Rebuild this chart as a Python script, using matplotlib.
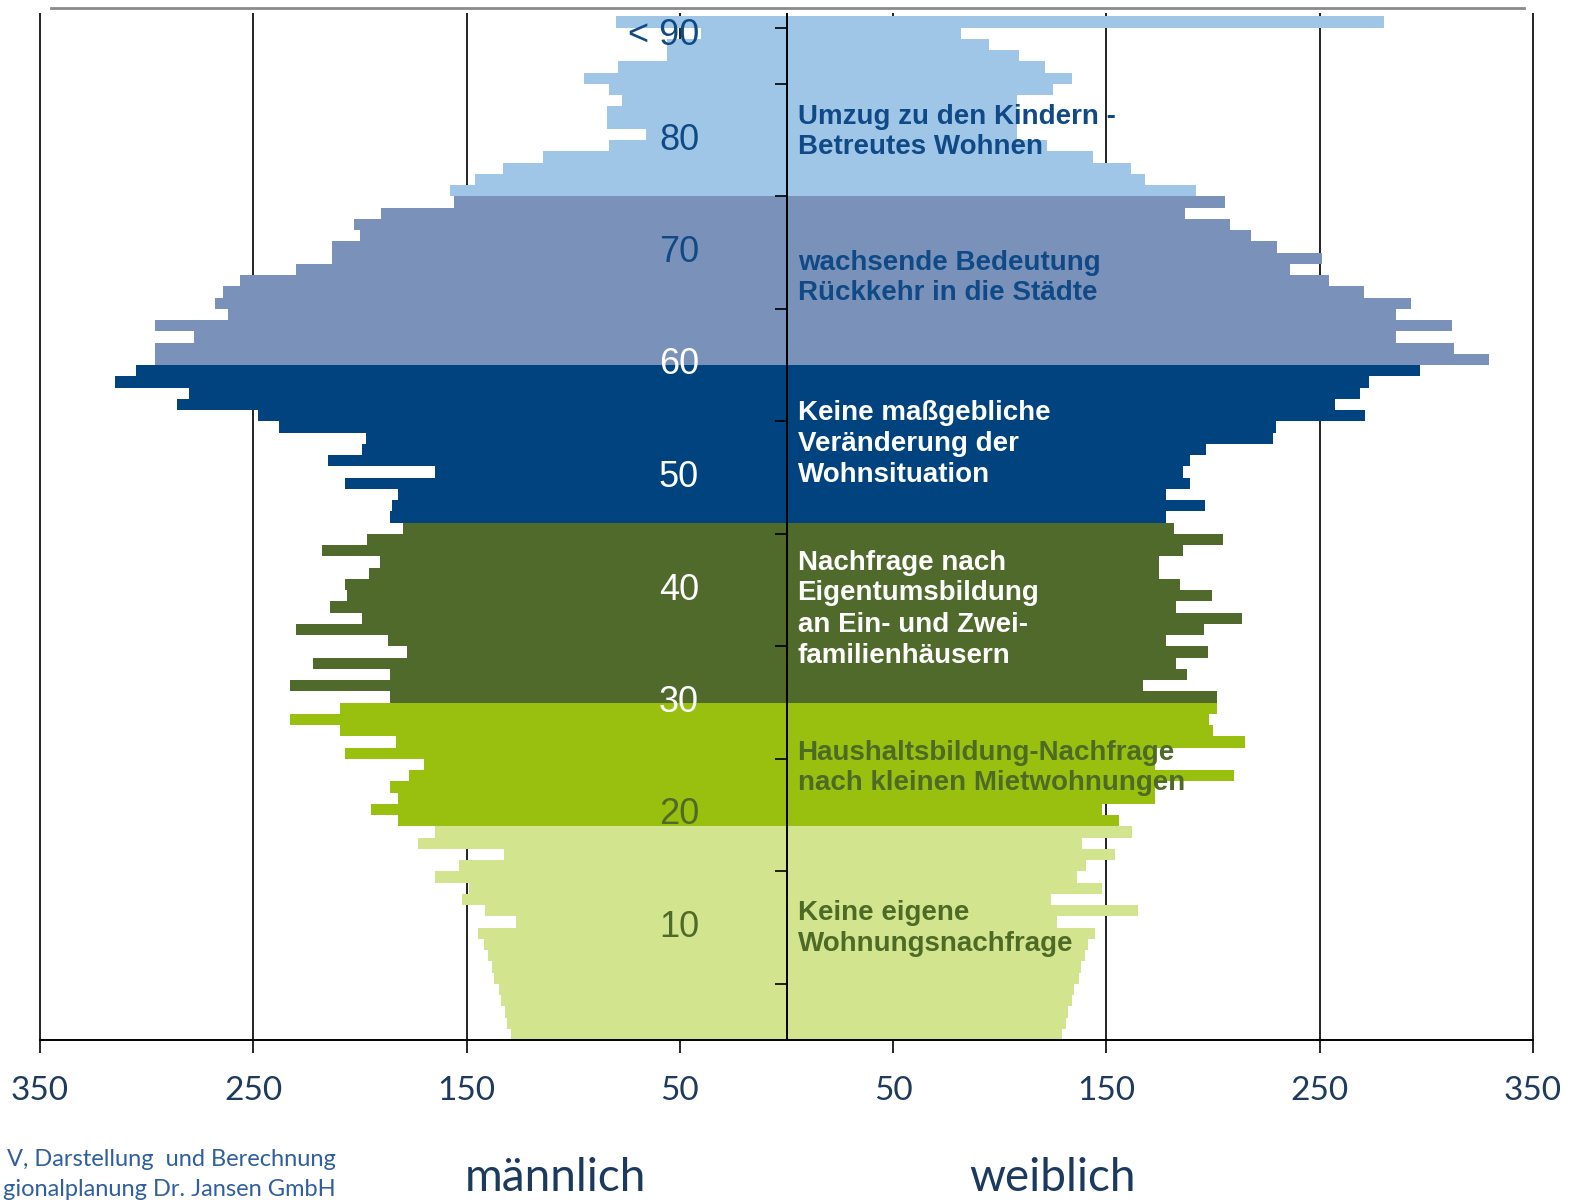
import numpy as np
import matplotlib
matplotlib.use("Agg")
import matplotlib.pyplot as plt

# Altersjahre 0 .. 90 (90 = "< 90")
ages = np.arange(91)

maennlich = [129, 131, 132, 134, 135, 137, 138, 140, 142, 144.5,
             127, 141.5, 152, 149, 165, 153.5, 132.5, 173, 165, 182,
             195, 182, 186, 177, 170, 207, 183, 209.5, 233, 209.5,
             186, 233, 186, 222, 178, 187, 230, 199, 214, 206,
             207, 195.6, 190.6, 218, 196.5, 180, 186, 185, 182, 207,
             165, 215, 199, 197, 238, 248, 286, 280, 315, 305,
             296, 296, 278, 296, 262, 268, 264, 256, 230, 213,
             213, 200, 203, 190, 156, 158, 146, 133, 114, 83,
             66, 84, 84, 77, 83, 95, 79, 56, 56, 40,
             80]

weiblich = [129, 131, 132, 134, 135, 137, 138, 140, 141.5, 144.5,
            127, 164.8, 124.2, 147.7, 136, 140.4, 154, 138.5, 162, 156,
            148, 173, 173, 210, 173, 173, 215, 200, 198, 202,
            202, 167, 188, 182.7, 197.5, 177.7, 195.7, 213.6, 182.7, 199.6,
            184.5, 174.5, 174.5, 185.8, 204.6, 181.7, 177.7, 196, 177.7, 189,
            185.8, 189, 196.6, 228, 229.4, 271, 257, 269, 272.9, 296.8,
            329.5, 313, 286, 312, 286, 292.7, 270.7, 254.5, 236, 251,
            230, 217.6, 208, 186.7, 205.5, 192, 168, 161.6, 143.6, 122,
            108, 108, 108, 108, 125, 134, 121, 109, 95, 82,
            280]

# Lebensphasen: erstes Alter der Gruppe und Farbe
group_start = [0, 19, 30, 46, 60, 75]
group_color = ["#D3E48F", "#99C00F", "#4F6A2B", "#00437F", "#7A92BA", "#9FC6E7"]

x_ticks = [-350, -250, -150, -50, 50, 150, 250, 350]
age_labels = ["10", "20", "30", "40", "50", "60", "70", "80", "< 90"]
age_label_pos = [10, 20, 30, 40, 50, 60, 70, 80, 89.3]
age_label_col = ["#4F6A28", "#4F6A28", "white", "white", "white", "white",
                 "#0F4A86", "#0F4A86", "#0F4A86"]

notes = [
    (["Umzug zu den Kindern -", "Betreutes Wohnen"], [82.0, 79.4], "#0F4A86"),
    (["wachsende Bedeutung", "Rückkehr in die Städte"], [69.1, 66.4], "#0F4A86"),
    (["Keine maßgebliche", "Veränderung der", "Wohnsituation"], [55.7, 53.0, 50.2], "white"),
    (["Nachfrage nach", "Eigentumsbildung", "an Ein- und Zwei-", "familienhäusern"],
     [42.4, 39.7, 36.9, 34.1], "white"),
    (["Haushaltsbildung-Nachfrage", "nach kleinen Mietwohnungen"], [25.5, 22.8], "#4E6B26"),
    (["Keine eigene", "Wohnungsnachfrage"], [11.3, 8.5], "#4E6B26"),
]

colors = [group_color[np.searchsorted(group_start, a, side="right") - 1] for a in ages]

fig = plt.figure(figsize=(15.72, 12.04), dpi=100)
ax = fig.add_axes([40 / 1572, 164 / 1204, 1493 / 1572, 1035 / 1204])

ax.barh(ages + 0.5, -np.array(maennlich), height=1.0, color=colors, linewidth=0, zorder=2)
ax.barh(ages + 0.5, weiblich, height=1.0, color=colors, linewidth=0, zorder=2)

ax.set_xlim(-350, 350)
ax.set_ylim(0, 92)

# Gitterlinien, Mittelachse und Altersmarken
ax.vlines(x_ticks, 0, 91.3, color="#222222", lw=1.4, zorder=1, clip_on=False)
ax.vlines(0, 0, 91.3, color="black", lw=1.4, zorder=3)
ax.hlines(list(range(5, 90, 10)) + [90], -5.6, 0, color="black", lw=1.2, zorder=3)
ax.plot([-345, 346], [91.7, 91.7], color="#8A8A8A", lw=2, clip_on=False)

for s in ["left", "right", "top"]:
    ax.spines[s].set_visible(False)
ax.spines["bottom"].set_linewidth(1.4)
ax.set_yticks([])
ax.set_xticks(x_ticks)
ax.set_xticklabels([str(abs(v)) for v in x_ticks], family="Lato", fontsize=24, color="#1F3A5F")
ax.tick_params(axis="x", length=9, width=1.2, pad=17)

for lab, y, c in zip(age_labels, age_label_pos, age_label_col):
    ax.text(-41, y, lab, ha="right", va="center", fontsize=26,
            family="Liberation Sans", color=c, zorder=4)

for lines, ys, c in notes:
    for t, y in zip(lines, ys):
        ax.text(5.2, y, t, ha="left", va="center", fontsize=20, fontweight="bold",
                family="Liberation Sans", color=c, zorder=4)

fig.text(555 / 1572, 0.004, "männlich", ha="center", va="bottom", fontsize=33,
         family="Lato", color="#1B3A5E")
fig.text(1052 / 1572, 0.004, "weiblich", ha="center", va="bottom", fontsize=33,
         family="Lato", color="#1B3A5E")
fig.text(336 / 1572, 1 - 1159 / 1204, "V, Darstellung  und Berechnung", ha="right",
         va="center", fontsize=17, family="Lato", color="#2F5F9E")
fig.text(336 / 1572, 1 - 1190 / 1204, "gionalplanung Dr. Jansen GmbH", ha="right",
         va="center", fontsize=17, family="Lato", color="#2F5F9E")

fig.savefig("out.png", dpi=100)
